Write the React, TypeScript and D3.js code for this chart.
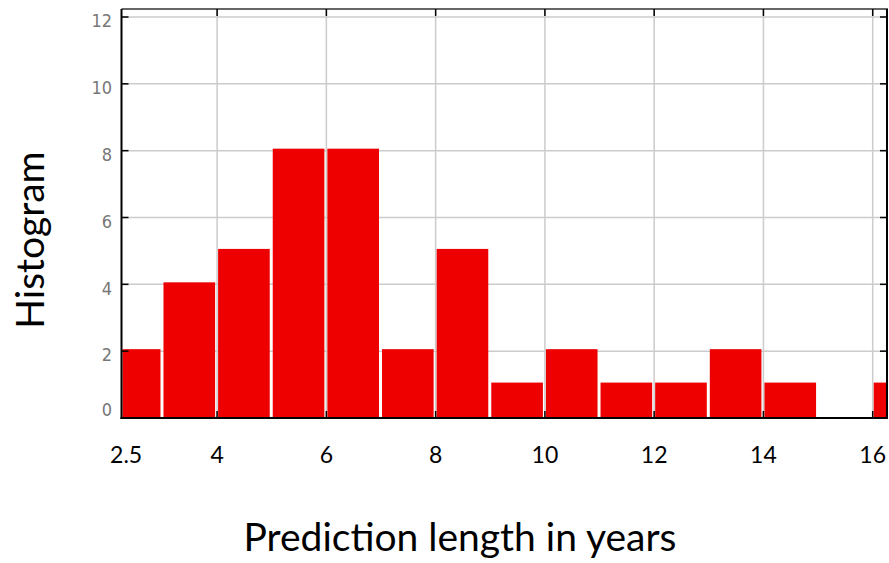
import { useEffect, useRef } from 'react';
import * as d3 from 'd3';

// histogram bins (edges) and counts
const binEdges = [2.25, 3, 4, 5, 6, 7, 8, 9, 10, 11, 12, 13, 14, 15, 16, 17];
const counts = [2, 4, 5, 8, 8, 2, 5, 1, 2, 1, 1, 2, 1, 0, 1];

const xGrid = [4, 6, 8, 10, 12, 14, 16];
const xLabels = ['2.5', '4', '6', '8', '10', '12', '14', '16'];
const xLabelValues = [2.5, 4, 6, 8, 10, 12, 14, 16];
const yTicks = [0, 2, 4, 6, 8, 10, 12];

const W = 889;
const H = 563;

export default function App() {
  const svgRef = useRef<SVGSVGElement>(null);

  useEffect(() => {
    if (!svgRef.current) return;
    const svg = d3.select(svgRef.current);
    svg.selectAll('*').remove();

    const plot = { left: 121.5, right: 888, top: 9, bottom: 418 };

    const x = d3.scaleLinear().domain([2.25, 16.28]).range([plot.left, plot.right]);
    const y = d3.scaleLinear().domain([0, 12]).range([plot.bottom, 17]);

    svg.append('defs')
      .append('clipPath')
      .attr('id', 'plotClip')
      .append('rect')
      .attr('x', plot.left)
      .attr('y', plot.top)
      .attr('width', plot.right - plot.left)
      .attr('height', plot.bottom - plot.top);

    // grid
    const grid = svg.append('g').attr('stroke', '#cccccc').attr('stroke-width', 1.5);
    grid.selectAll('.gx')
      .data(xGrid)
      .enter()
      .append('line')
      .attr('x1', d => x(d))
      .attr('x2', d => x(d))
      .attr('y1', plot.top)
      .attr('y2', plot.bottom);
    grid.selectAll('.gy')
      .data(yTicks.filter(d => d > 0))
      .enter()
      .append('line')
      .attr('x1', plot.left)
      .attr('x2', plot.right)
      .attr('y1', d => y(d))
      .attr('y2', d => y(d));

    // bars
    const bins = counts.map((c, i) => ({ x0: binEdges[i], x1: binEdges[i + 1], c }));
    svg.append('g')
      .attr('clip-path', 'url(#plotClip)')
      .selectAll('rect')
      .data(bins.filter(b => b.c > 0))
      .enter()
      .append('rect')
      .attr('x', d => x(d.x0) + 1)
      .attr('width', d => x(d.x1) - x(d.x0) - 3)
      .attr('y', d => y(d.c) - 2)
      .attr('height', d => plot.bottom - y(d.c) + 2)
      .attr('fill', '#ee0000');

    // frame
    const frame = svg.append('g').attr('stroke', '#000').attr('fill', 'none');
    frame.append('line')
      .attr('x1', plot.left).attr('x2', plot.right)
      .attr('y1', plot.top).attr('y2', plot.top)
      .attr('stroke', '#333').attr('stroke-width', 1.5);
    frame.append('line')
      .attr('x1', plot.right - 1).attr('x2', plot.right - 1)
      .attr('y1', plot.top).attr('y2', plot.bottom)
      .attr('stroke-width', 2);
    frame.append('line')
      .attr('x1', plot.left).attr('x2', plot.left)
      .attr('y1', plot.top).attr('y2', plot.bottom + 1)
      .attr('stroke-width', 2);
    frame.append('line')
      .attr('x1', plot.left - 1).attr('x2', plot.right)
      .attr('y1', plot.bottom).attr('y2', plot.bottom)
      .attr('stroke-width', 2);

    // inward ticks
    const ticks = svg.append('g').attr('stroke', '#000').attr('stroke-width', 1.5);
    xGrid.forEach(v => {
      ticks.append('line').attr('x1', x(v)).attr('x2', x(v))
        .attr('y1', plot.bottom).attr('y2', plot.bottom - 7);
      ticks.append('line').attr('x1', x(v)).attr('x2', x(v))
        .attr('y1', plot.top).attr('y2', plot.top + 7);
    });
    yTicks.filter(d => d > 0).forEach(v => {
      ticks.append('line').attr('x1', plot.left).attr('x2', plot.left + 7)
        .attr('y1', y(v)).attr('y2', y(v));
      ticks.append('line').attr('x1', plot.right - 1).attr('x2', plot.right - 8)
        .attr('y1', y(v)).attr('y2', y(v));
    });

    // y tick labels
    svg.append('g')
      .selectAll('text')
      .data(yTicks)
      .enter()
      .append('text')
      .attr('x', 112)
      .attr('y', d => (d === 0 ? y(d) - 8 : y(d) + 4))
      .attr('dy', '0.35em')
      .attr('text-anchor', 'end')
      .attr('font-family', '"DejaVu Sans Condensed", "DejaVu Sans", sans-serif')
      .attr('font-weight', 200)
      .attr('font-size', 18)
      .attr('fill', '#777')
      .text(d => d);

    // x tick labels
    svg.append('g')
      .selectAll('text')
      .data(xLabels)
      .enter()
      .append('text')
      .attr('x', (d, i) => x(xLabelValues[i]) + (i === 0 ? -9 : 0))
      .attr('y', 463)
      .attr('text-anchor', 'middle')
      .attr('font-family', 'Lato, "Open Sans", sans-serif')
      .attr('font-size', 23)
      .attr('fill', '#000')
      .text(d => d);

    // axis titles
    svg.append('text')
      .attr('x', 460)
      .attr('y', 551)
      .attr('text-anchor', 'middle')
      .attr('font-family', 'Lato, "Open Sans", sans-serif')
      .attr('font-size', 39)
      .attr('fill', '#000')
      .text('Prediction length in years');

    svg.append('text')
      .attr('transform', 'translate(44, 240) rotate(-90)')
      .attr('text-anchor', 'middle')
      .attr('font-family', 'Lato, "Open Sans", sans-serif')
      .attr('font-size', 39)
      .attr('fill', '#000')
      .text('Histogram');
  }, []);

  return (
    <div style={{ position: 'absolute', left: 0, top: 0, width: W, height: H, background: '#fff' }}>
      <svg ref={svgRef} width={W} height={H} style={{ display: 'block' }} />
    </div>
  );
}
